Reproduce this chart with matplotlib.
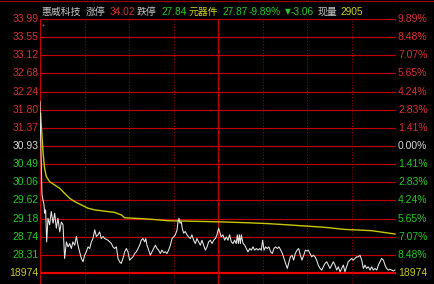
import numpy as np
import matplotlib
matplotlib.use('Agg')
import matplotlib.pyplot as plt
from matplotlib.lines import Line2D
from matplotlib.transforms import blended_transform_factory

# 分时数据 (分钟, 价格)
price_time = [0.0, 0.4, 1.35, 2.7, 3.1, 3.8, 4.5, 5.4, 6.5, 7.6, 8.8, 9.9, 11.0, 12.1, 13.3, 14.4,
              15.5, 16.6, 17.8, 18.9, 20.0, 21.1, 22.2, 23.4, 24.5, 25.6, 26.7, 27.9, 29.0, 30.1,
              31.2, 32.4, 33.5, 34.6, 35.7, 36.9, 38.0, 39.1, 40.2, 41.3, 42.5, 43.6, 45.8, 48.1,
              49.2, 50.3, 51.5, 52.6, 53.7, 54.8, 55.9, 57.1, 58.2, 59.3,
              60.4, 61.6, 62.7, 63.8, 64.9, 66.1, 67.2, 68.3, 69.4, 70.6, 71.3, 72.1, 73.3, 74.4,
              75.5, 76.6, 77.8, 78.9, 80.0, 81.1, 82.2, 83.4, 84.5, 85.6, 86.7, 87.9, 89.0, 90.1,
              91.2, 92.4, 93.0, 93.7, 94.4, 95.3, 95.9, 96.8, 97.9, 99.1, 100.2, 101.3, 102.4,
              103.6, 104.7, 105.8, 106.9, 108.1, 109.2, 110.3, 111.5, 112.6, 113.7, 114.8, 116.0,
              117.1, 118.2, 119.3, 120.4,
              121.1, 122.2, 123.3, 124.5, 125.6, 126.7, 127.8, 129.0, 130.1, 131.2, 132.3, 133.0,
              133.7, 134.4, 135.1, 135.7, 136.9, 138.0, 139.1, 140.2, 141.4, 142.5, 143.6, 144.7,
              145.9, 147.0, 148.1, 149.2, 150.1, 151.0, 152.1, 153.2, 154.3, 155.5, 156.6, 157.7,
              158.8, 160.0, 161.1, 162.3, 163.4, 164.5, 165.6, 166.7, 167.6, 168.8, 169.9, 171.0,
              172.1, 173.3, 174.4, 175.5, 176.6, 177.8, 178.9,
              180.0, 180.9, 182.0, 183.2, 184.3, 185.4, 186.5, 187.6, 188.8, 189.9, 191.0, 192.1,
              193.3, 194.4, 195.5, 196.6, 197.8, 198.9, 200.0, 201.1, 202.3, 203.4, 204.5, 205.6,
              206.7, 207.8, 209.0, 210.1, 211.2, 212.4, 213.5, 214.6, 215.7, 216.9, 218.0, 219.1,
              220.2, 221.3, 222.5, 223.6, 224.7, 225.8, 227.0, 228.1, 229.2, 230.3, 231.5, 232.6,
              233.7, 234.8, 235.9, 237.1, 238.2, 239.3]
price = [32.00, 31.20, 29.75, 29.51, 29.31, 29.39, 28.62, 29.19, 29.03, 29.35, 29.07, 29.31, 28.95,
         29.19, 28.86, 29.10, 29.03, 28.22, 28.62, 28.50, 28.58, 28.46, 28.62, 28.54, 28.75, 28.54,
         28.38, 28.22, 28.14, 28.30, 28.38, 28.50, 28.46, 28.62, 28.70, 28.91, 28.75, 28.79, 28.86,
         28.70, 28.75, 28.70, 28.66, 28.58, 28.50, 28.46, 28.50, 28.22, 28.14, 28.10, 28.22, 28.38,
         28.46, 28.38,
         28.18, 28.22, 28.26, 28.34, 28.38, 28.46, 28.54, 28.66, 28.70, 28.62, 28.70, 28.54, 28.42,
         28.30, 28.38, 28.46, 28.54, 28.46, 28.42, 28.34, 28.42, 28.36, 28.38, 28.34, 28.42, 28.54,
         28.70, 28.74, 28.79, 28.91, 29.10, 29.19, 29.07, 29.10, 28.95, 28.83, 28.87, 28.79, 28.74,
         28.70, 28.79, 28.66, 28.58, 28.70, 28.62, 28.54, 28.66, 28.54, 28.42, 28.50, 28.62, 28.66,
         28.58, 28.66, 28.70, 28.79, 28.95,
         28.87, 28.74, 28.79, 28.66, 28.74, 28.66, 28.79, 28.62, 28.58, 28.66, 28.58, 28.79, 28.58,
         28.79, 28.58, 28.79, 28.58, 28.54, 28.46, 28.38, 28.46, 28.42, 28.50, 28.42, 28.46, 28.42,
         28.46, 28.42, 28.66, 28.42, 28.50, 28.46, 28.50, 28.38, 28.34, 28.46, 28.50, 28.46, 28.50,
         28.42, 28.34, 28.22, 28.10, 27.98, 28.10, 28.26, 28.30, 28.18, 28.34, 28.42, 28.46, 28.30,
         28.18, 28.30, 28.42,
         28.40, 28.42, 28.34, 28.26, 28.30, 28.26, 28.18, 28.06, 27.98, 27.94, 28.02, 28.10, 28.14,
         28.06, 27.98, 28.06, 28.14, 28.06, 27.94, 28.02, 27.90, 27.98, 28.06, 27.90, 28.02, 28.14,
         28.18, 28.22, 28.18, 28.22, 28.26, 28.26, 28.30, 28.18, 27.98, 28.06, 27.98, 28.02, 27.94,
         28.02, 27.94, 27.98, 27.94, 28.06, 28.14, 28.22, 28.18, 28.06, 27.98, 27.94, 27.96, 27.94,
         27.92, 27.94]

# 均价线
avg_time = [0.4, 0.7, 1.3, 2.0, 3.1, 4.3, 6.5, 9.9, 13.3, 16.6, 20.0, 23.4, 27.9, 32.4, 36.9,
            43.6, 50.3, 54.8, 57.1, 62.7, 72.8, 86.3, 99.8, 123.4, 140.2, 153.7, 167.2, 184.0,
            192.1, 205.6, 223.6, 239.3]
avg_price = [31.72, 31.52, 31.20, 30.79, 30.39, 30.19, 30.07, 29.99, 29.91, 29.79, 29.67, 29.59,
             29.51, 29.43, 29.39, 29.36, 29.33, 29.27, 29.20, 29.19, 29.17, 29.13, 29.12, 29.10,
             29.08, 29.06, 29.03, 28.99, 28.97, 28.92, 28.89, 28.81]

mark_time, mark_price = [1.8], [33.85]

prev_close = 30.93
top_level = 33.99
left_labels = ['33.99', '33.55', '33.12', '32.68', '32.24', '31.80', '31.37', '30.93',
               '30.49', '30.06', '29.62', '29.18', '28.74', '28.31', '18974']
right_labels = ['9.89%', '8.48%', '7.07%', '5.65%', '4.24%', '2.83%', '1.41%', '0.00%',
                '1.41%', '2.83%', '4.24%', '5.65%', '7.07%', '8.48%', '18974']

title_parts = [('惠威科技', 'gray'), ('涨停', 'gray'), ('34.02', 'red'), ('跌停', 'gray'),
               ('27.84', 'green'), ('元器件', 'yellow'), ('27.87', 'green'), ('-9.89%', 'green'),
               ('▼', 'green'), ('-3.06', 'green'), ('现量', 'gray'), ('2905', 'yellow')]
title_x = [41, 86, 110, 137, 161, 189, 222, 249, 285, 291, 318, 340]

RED = '#d83030'
GREEN = '#28c828'
WHITE = '#d8d8d8'
YELLOW = '#c8c828'
colors = {'gray': '#c8c8c8', 'red': RED, 'green': GREEN, 'yellow': '#d0d020'}

W, H = 434, 284
fig = plt.figure(figsize=(W / 100, H / 100), dpi=100, facecolor='black')
ax = fig.add_axes([40 / W, 0, 356 / W, (H - 1) / H])
ax.set_facecolor('black')

step = (top_level - prev_close) / 7
levels = prev_close + np.arange(7, -8, -1) * step
upp = (levels[0] - levels[-1]) / 254
ax.set_xlim(0, 240)
ax.set_ylim(levels[-1] - 11 * upp, levels[0] + 18 * upp)
for s in ax.spines.values():
    s.set_visible(False)
ax.set_xticks([])
ax.set_yticks([])

# 网格
ax.hlines(levels[:-1], 0, 240, color='#c00000', lw=0.85, zorder=1)
ax.hlines(levels[-1], 0, 240, color='#e80000', lw=1.6, zorder=1)
y0 = ax.get_ylim()[0]
for t in range(30, 240, 30):
    if t == 120:
        ax.vlines(t, y0, levels[0], color='#c00000', lw=0.85, zorder=1)
    else:
        ax.vlines(t, y0, levels[0], color='#a00000', lw=0.7, linestyles=(0, (1, 2)), zorder=1)
ax.vlines(0, y0, levels[0], color='#c00000', lw=0.85, zorder=1)
ax.axvline(240, color='#c00000', lw=0.85, zorder=1)
fig.add_artist(Line2D([0, 1], [1 - 1 / H] * 2, transform=fig.transFigure, color='#a00000', lw=0.8))

# 曲线
ax.plot(avg_time, avg_price, color='#c8c800', lw=1.0, zorder=3)
ax.plot(price_time, price, color='#e8e8e8', lw=0.75, zorder=4)
ax.plot(mark_time, mark_price, 's', color='#e040a0', ms=1.2, mew=0, zorder=4)

# 坐标标签
trans = blended_transform_factory(fig.transFigure, ax.transData)
for i, (lv, ll, rl) in enumerate(zip(levels, left_labels, right_labels)):
    if i < 7:
        c = RED
    elif i == 7:
        c = WHITE
    elif i < 14:
        c = GREEN
    else:
        c = YELLOW
    fig.text(38.5 / W, lv, ll, transform=trans, ha='right', va='center', color=c,
             fontsize=7.5, family='Liberation Sans')
    fig.text(398 / W, lv, rl, transform=trans, ha='left', va='center', color=c,
             fontsize=7.5, family='Liberation Sans')

# 标题
for (s, c), x in zip(title_parts, title_x):
    if s == '▼':
        fam, fs = ['DejaVu Sans'], 5.5
    elif any(ord(ch) > 0x2000 for ch in s):
        fam, fs = ['Noto Sans CJK SC', 'DejaVu Sans'], 7.1
    else:
        fam, fs = ['Liberation Sans'], 7.3
    fig.text(x / W, 1 - 12 / H, s, color=colors[c], fontsize=fs, family=fam,
             ha='left', va='center')

fig.savefig('out.png', dpi=100, facecolor='black')
